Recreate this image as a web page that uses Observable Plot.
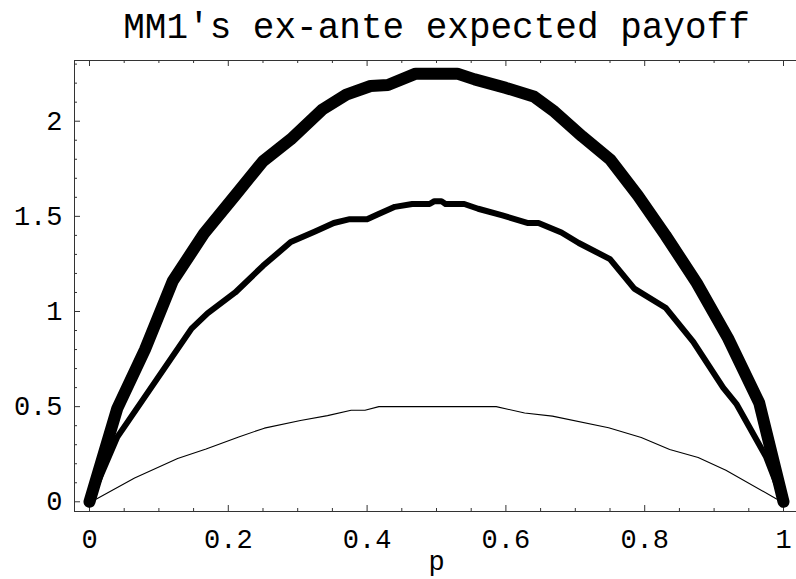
<!DOCTYPE html>
<html>
<head>
<meta charset="utf-8">
<script src="https://cdn.jsdelivr.net/npm/d3@7"></script>
<script src="https://cdn.jsdelivr.net/npm/@observablehq/plot@0.6"></script>
<style>
  html, body { margin: 0; padding: 0; background: #fff; }
  #chart svg { display: block; }
</style>
</head>
<body>
<div id="chart"></div>
<script>
const titleText = "MM1's ex-ante expected payoff";
const xLabel = "p";

const xMajor = [0, 0.2, 0.4, 0.6, 0.8, 1];
const xMinor = [0.05, 0.1, 0.15, 0.25, 0.3, 0.35, 0.45, 0.5, 0.55, 0.65, 0.7, 0.75, 0.85, 0.9, 0.95];
const yMajor = [0, 0.5, 1, 1.5, 2];
const yMinor = [0.1, 0.2, 0.3, 0.4, 0.6, 0.7, 0.8, 0.9, 1.1, 1.2, 1.3, 1.4, 1.6, 1.7, 1.8, 1.9, 2.1, 2.2, 2.3];

// thick curve
const pThick = [0, 0.04, 0.08, 0.12, 0.165, 0.21, 0.25, 0.29, 0.335, 0.37, 0.405, 0.43, 0.47, 0.53, 0.555, 0.60, 0.64, 0.67, 0.71, 0.75, 0.79, 0.83, 0.875, 0.92, 0.965, 1.0];
const vThick = [0, 0.49, 0.80, 1.16, 1.41, 1.61, 1.79, 1.905, 2.06, 2.14, 2.185, 2.19, 2.25, 2.25, 2.22, 2.175, 2.13, 2.05, 1.92, 1.80, 1.61, 1.40, 1.15, 0.86, 0.52, 0];

// medium curve
const pMid = [0, 0.04, 0.147, 0.17, 0.21, 0.25, 0.29, 0.325, 0.352, 0.375, 0.40, 0.415, 0.44, 0.465, 0.49, 0.497, 0.507, 0.513, 0.54, 0.56, 0.595, 0.632, 0.647, 0.68, 0.705, 0.75, 0.785, 0.83, 0.87, 0.913, 0.932, 0.975, 1.0];
const vMid = [0, 0.34, 0.91, 0.99, 1.10, 1.24, 1.365, 1.42, 1.465, 1.485, 1.485, 1.51, 1.55, 1.565, 1.565, 1.58, 1.58, 1.565, 1.565, 1.54, 1.505, 1.465, 1.465, 1.415, 1.36, 1.275, 1.12, 1.02, 0.84, 0.60, 0.515, 0.235, 0];

// thin curve
const pThin = [0.01, 0.065, 0.127, 0.168, 0.215, 0.252, 0.304, 0.343, 0.377, 0.397, 0.417, 0.586, 0.627, 0.667, 0.748, 0.795, 0.836, 0.877, 0.917, 0.99];
const vThin = [0.015, 0.125, 0.228, 0.277, 0.341, 0.387, 0.427, 0.453, 0.481, 0.481, 0.5, 0.5, 0.467, 0.45, 0.389, 0.338, 0.275, 0.233, 0.166, 0.015];

const toRows = (ps, vs) => ps.map((p, i) => ({p, v: vs[i]}));
const thick = toRows(pThick, vThick);
const mid = toRows(pMid, vMid);
const thin = toRows(pThin, vThin);

const W = 796, H = 579;
const mTop = 60, mBottom = 68, mLeft = 74, mRight = -2;
const frameH = H - mTop - mBottom;
const frameW = W - mLeft - mRight;
const majorLen = 6, minorLen = 3;

const chart = Plot.plot({
  width: W,
  height: H,
  marginTop: mTop,
  marginBottom: mBottom,
  marginLeft: mLeft,
  marginRight: mRight,
  style: {fontFamily: "'Liberation Mono', 'Courier New', monospace", background: "#fff", color: "#000"},
  x: {domain: [-0.0216, 1.0216]},
  y: {domain: [-0.051, 2.319]},
  marks: [
    Plot.frame({stroke: "#333", strokeWidth: 1}),
    // ticks (inward)
    Plot.ruleX(xMajor, {insetTop: frameH - majorLen, stroke: "#333"}),
    Plot.ruleX(xMinor, {insetTop: frameH - minorLen, stroke: "#333"}),
    Plot.ruleX(xMajor, {insetBottom: frameH - majorLen, stroke: "#333"}),
    Plot.ruleX(xMinor, {insetBottom: frameH - minorLen, stroke: "#333"}),
    Plot.ruleY(yMajor, {insetRight: frameW - majorLen, stroke: "#333"}),
    Plot.ruleY(yMinor, {insetRight: frameW - minorLen, stroke: "#333"}),
    // curves
    Plot.line(thin, {x: "p", y: "v", stroke: "#000", strokeWidth: 1.1, strokeLinejoin: "round", strokeLinecap: "round"}),
    Plot.line(mid, {x: "p", y: "v", stroke: "#000", strokeWidth: 6, strokeLinejoin: "round", strokeLinecap: "round"}),
    Plot.line(thick, {x: "p", y: "v", stroke: "#000", strokeWidth: 12, strokeLinejoin: "round", strokeLinecap: "round"}),
    // axes labels
    Plot.axisX(xMajor, {anchor: "bottom", tickSize: 0, tickPadding: 17, fontSize: 27, label: null, tickFormat: d => String(d)}),
    Plot.axisY(yMajor, {anchor: "left", tickSize: 0, tickPadding: 12, fontSize: 27, label: null, tickFormat: d => String(d)}),
    Plot.text([xLabel], {x: () => 0.5, frameAnchor: "bottom", dy: 58, lineAnchor: "bottom", fontSize: 27, fill: "#000"}),
    Plot.text([titleText], {x: () => 0.5, frameAnchor: "top", dy: -23, lineAnchor: "bottom", fontSize: 36, fill: "#000"})
  ]
});
document.getElementById("chart").appendChild(chart);
</script>
</body>
</html>
